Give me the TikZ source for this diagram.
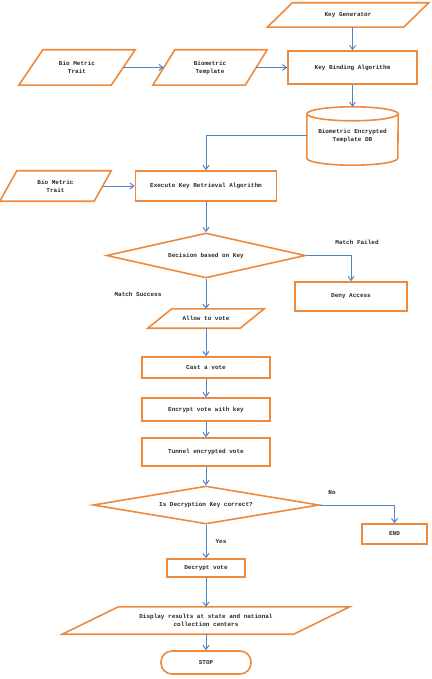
\documentclass[tikz,border=0pt]{standalone}
\usepackage{fontspec}
\setmonofont{Liberation Mono}
\usetikzlibrary{shapes.geometric,arrows.meta,calc}
\definecolor{ob}{HTML}{EE8A3E}
\definecolor{ab}{HTML}{4F86C6}
\definecolor{tx}{HTML}{262626}
\newcommand\mypara[2]{\draw[obox] ($(#1.north west)+(#2,0)$) -- ($(#1.north east)+(#2,0)$) -- ($(#1.south east)-(#2,0)$) -- ($(#1.south west)-(#2,0)$) -- cycle;}
\begin{document}
\begin{tikzpicture}[x=1pt,y=-1pt,
  every node/.style={font=\ttfamily\bfseries\fontsize{6}{8}\selectfont,text=tx,align=center,inner sep=0pt},
  obox/.style={draw=ob,line width=1.6pt,line join=miter},
  rbox/.style={obox,rectangle,minimum width=#1},
  pbox/.style={rectangle,minimum width=#1},
  dbox/.style={obox,diamond},
  conn/.style={draw=ab,line width=1pt,-{Straight Barb[length=4pt,width=6pt]}}]
\useasboundingbox (0,0) rectangle (431,679);
% parallelogram bodies
\node[pbox=136,minimum height=24] (kg) at (348,15) {Key Generator};
\node[pbox=92,minimum height=35] (bmt1) at (77,67.5) {Bio Metric\\Trait};
\node[pbox=92,minimum height=35] (bt) at (210,67.5) {Biometric\\Template};
\node[pbox=94,minimum height=30] (bmt2) at (55.5,186) {Bio Metric\\Trait};
\node[pbox=92,minimum height=19] (allow) at (206,318.5) {Allow to vote};
\node[pbox=231,minimum height=27] (disp) at (206,620.5) {Display results at state and national\\collection centers};
\mypara{kg}{12.5}
\mypara{bmt1}{12}
\mypara{bt}{11}
\mypara{bmt2}{8.5}
\mypara{allow}{12}
\mypara{disp}{28}
% rectangles
\node[rbox=129,minimum height=33] (kba) at (352.5,67.5) {Key Binding Algorithm};
\node[rbox=141,minimum height=30] (exec) at (206,186) {Execute Key Retrieval Algorithm};
\node[rbox=112,minimum height=29] (deny) at (351,296.5) {Deny Access};
\node[rbox=128,minimum height=21] (cast) at (206,367.5) {Cast a vote};
\node[rbox=128,minimum height=23] (enc) at (206,409.5) {Encrypt vote with key};
\node[rbox=128,minimum height=28] (tun) at (206,452) {Tunnel encrypted vote};
\node[rbox=65,minimum height=20] (endn) at (394.5,534) {END};
\node[rbox=78,minimum height=18] (dec) at (206,568) {Decrypt vote};
% cylinder
\node[rectangle,minimum width=91,minimum height=58] (db) at (352.5,136) {Biometric Encrypted\\Template DB};
\draw[obox] ($(db.north west)+(0,7)$) -- ($(db.south west)-(0,7)$) arc[start angle=180,end angle=360,x radius=45.5pt,y radius=7pt] -- ($(db.north east)+(0,7)$);
\draw[obox] ($(db.north)+(0,7)$) ellipse [x radius=45.5pt,y radius=7pt];
% diamonds
\node[dbox,aspect=4.42,minimum width=199,minimum height=45] (d1) at (206,255.5) {Decision based on Key};
\node[dbox,aspect=5.95,minimum width=226,minimum height=38] (d2) at (206,505) {Is Decryption Key correct?};
% terminal
\node[obox,rectangle,rounded corners=11pt,minimum width=90,minimum height=23] (stop) at (206,662.5) {STOP};
% connectors
\draw[conn] (kg.south -| kba) -- (kba.north);
\draw[conn] (bmt1.east) -- (bt.west);
\draw[conn] (bt.east) -- (kba.west);
\draw[conn] (kba.south) -- (db.north);
\draw[conn] (db.west) -| (exec.north);
\draw[conn] (bmt2.east) -- (exec.west);
\draw[conn] (exec.south) -- (d1.north);
\draw[conn] (d1.east) -| (deny.north);
\draw[conn] (d1.south) -- (allow.north);
\draw[conn] (allow.south) -- (cast.north);
\draw[conn] (cast.south) -- (enc.north);
\draw[conn] (enc.south) -- (tun.north);
\draw[conn] (tun.south) -- (d2.north);
\draw[conn] (d2.east) -| (endn.north);
\draw[conn] (d2.south) -- (dec.north);
\draw[conn] (dec.south) -- (disp.north);
\draw[conn] (disp.south) -- (stop.north);
% labels
\node (lmf) at (357,242) {Match Failed};
\node (lms) at (138,294) {Match Success};
\node (lno) at (332,493) {No};
\node (lyes) at (221,542) {Yes};
\end{tikzpicture}
\end{document}
